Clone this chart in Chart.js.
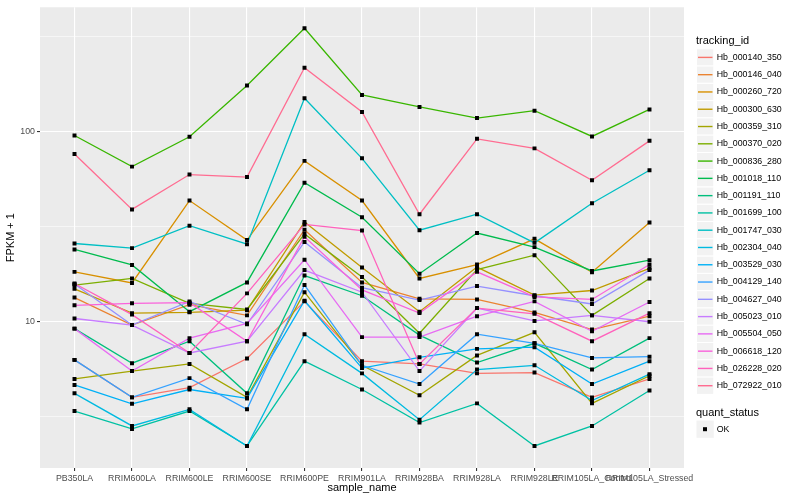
<!DOCTYPE html>
<html>
<head>
<meta charset="utf-8">
<title>FPKM por muestra</title>
<script src="https://cdn.jsdelivr.net/npm/chart.js@4.4.1/dist/chart.umd.min.js"></script>
<style>
    html, body { margin: 0; padding: 0; background: #ffffff; }
    #contenedor { width: 800px; height: 500px; }
</style>
</head>
<body>
<div id="contenedor"><canvas id="graficoFpkm" width="800" height="500"></canvas></div>
<script>
// Muestras (eje x)
const muestras = ['PB350LA', 'RRIM600LA', 'RRIM600LE', 'RRIM600SE', 'RRIM600PE', 'RRIM901LA',
    'RRIM928BA', 'RRIM928LA', 'RRIM928LE', 'RRIM105LA_Control', 'RRIM105LA_Stressed'];

// Valores FPKM + 1, uno por gen
const hb_000140_350 = [6.3, 4.0, 4.5, 6.4, 12.8, 6.2, 6.0, 5.35, 5.4, 4.0, 5.0];
const hb_000146_040 = [13.4, 9.6, 12.3, 10.8, 30.5, 16.1, 13.2, 13.1, 11.2, 9.1, 10.7];
const hb_000260_720 = [18.3, 16.0, 43.4, 26.9, 70.2, 43.4, 16.9, 20.0, 27.3, 18.2, 33.3];
const hb_000300_630 = [14.9, 11.1, 11.2, 11.5, 33.5, 19.3, 11.3, 19.4, 13.8, 14.6, 19.1];
const hb_000359_310 = [5.0, 5.5, 6.0, 4.0, 14.3, 5.9, 4.1, 6.65, 8.8, 3.72, 5.2];
const hb_000370_020 = [15.6, 16.9, 12.5, 11.6, 29.0, 17.2, 8.7, 18.8, 22.4, 10.8, 16.9];
const hb_000836_280 = [95.5, 65.5, 94, 175, 350, 156, 135, 118, 129, 94.4, 131];
const hb_001018_110 = [24.0, 19.9, 11.3, 16.1, 53.9, 35.5, 17.9, 29.3, 24.7, 18.5, 21.1];
const hb_001191_110 = [9.2, 6.05, 7.9, 4.2, 17.5, 13.7, 8.5, 6.1, 7.7, 5.6, 8.2];
const hb_001699_100 = [3.39, 2.73, 3.39, 2.22, 6.2, 4.4, 2.95, 3.72, 2.22, 2.83, 4.35];
const hb_001747_030 = [25.8, 24.4, 32.0, 25.6, 150, 72.4, 30.3, 36.8, 26.0, 42.0, 62.7];
const hb_002304_040 = [4.2, 2.83, 3.46, 2.22, 8.6, 5.35, 3.05, 5.6, 5.9, 3.85, 5.3];
const hb_003529_030 = [4.65, 3.7, 4.4, 3.95, 12.9, 5.7, 6.5, 7.2, 7.35, 4.7, 6.2];
const hb_004129_140 = [6.3, 4.0, 5.05, 3.46, 15.6, 5.9, 4.7, 8.6, 7.7, 6.45, 6.55];
const hb_004627_040 = [15.8, 9.6, 12.8, 9.7, 26.3, 15.1, 13.0, 15.4, 13.7, 12.4, 18.7];
const hb_005023_010 = [10.4, 9.6, 6.85, 7.9, 18.7, 14.3, 5.5, 11.8, 10.1, 10.8, 10.0];
const hb_005504_050 = [9.2, 5.5, 8.2, 9.8, 21.2, 8.3, 8.3, 10.7, 12.8, 8.9, 12.7];
const hb_006618_120 = [12.2, 12.5, 12.6, 7.9, 28.0, 14.7, 11.1, 18.3, 13.5, 13.1, 20.0];
const hb_026228_020 = [15.9, 10.9, 6.85, 14.1, 32.5, 30.2, 6.0, 11.8, 11.0, 7.9, 11.1];
const hb_072922_010 = [76.3, 39.0, 59.5, 57.7, 217, 127, 36.8, 91.7, 81.7, 55.5, 89.5];

const idsSeguimiento = ['Hb_000140_350', 'Hb_000146_040', 'Hb_000260_720', 'Hb_000300_630',
    'Hb_000359_310', 'Hb_000370_020', 'Hb_000836_280', 'Hb_001018_110', 'Hb_001191_110',
    'Hb_001699_100', 'Hb_001747_030', 'Hb_002304_040', 'Hb_003529_030', 'Hb_004129_140',
    'Hb_004627_040', 'Hb_005023_010', 'Hb_005504_050', 'Hb_006618_120', 'Hb_026228_020',
    'Hb_072922_010'];

const series = [hb_000140_350, hb_000146_040, hb_000260_720, hb_000300_630, hb_000359_310,
    hb_000370_020, hb_000836_280, hb_001018_110, hb_001191_110, hb_001699_100, hb_001747_030,
    hb_002304_040, hb_003529_030, hb_004129_140, hb_004627_040, hb_005023_010, hb_005504_050,
    hb_006618_120, hb_026228_020, hb_072922_010];

// Marcas del eje y (log10)
const etiquetasY = [10, 100];
const marcasMenoresY = [3.1623, 31.623, 316.23];

// Paleta de ggplot para 20 niveles
const colores = ['#F8766D', '#EA8331', '#D89000', '#C09B00', '#A3A500', '#7CAE00', '#39B600',
    '#00BB4E', '#00BF7D', '#00C1A3', '#00BFC4', '#00BAE0', '#00B0F6', '#35A2FF', '#9590FF',
    '#C77CFF', '#E76BF3', '#FA62DB', '#FF62BC', '#FF6C91'];

const FUENTE = '"Liberation Sans", Arial, Helvetica, sans-serif';
Chart.defaults.font.family = FUENTE;

function esMayor(v) {
    return etiquetasY.some(e => Math.abs(e - v) < 1e-6);
}

// Fondo gris del panel
const fondoPanel = {
    id: 'fondoPanel',
    beforeDraw(chart) {
        const { ctx, chartArea } = chart;
        ctx.save();
        ctx.fillStyle = '#EBEBEB';
        ctx.fillRect(chartArea.left, chartArea.top, chartArea.right - chartArea.left, chartArea.bottom - chartArea.top);
        ctx.restore();
    }
};

// Leyenda estilo ggplot a la derecha
const leyenda = {
    id: 'leyenda',
    afterDraw(chart) {
        const c = chart.ctx;
        const tam = 17.28;
        c.save();
        c.textBaseline = 'middle';
        c.textAlign = 'left';
        c.fillStyle = '#000000';
        c.font = '11px ' + FUENTE;
        c.fillText('tracking_id', 696, 41);

        idsSeguimiento.forEach((id, i) => {
            const yc = 57.4 + i * tam;
            c.fillStyle = '#F2F2F2';
            c.fillRect(696.5, yc - tam / 2, tam, tam);
            c.strokeStyle = '#FFFFFF';
            c.lineWidth = 1;
            c.strokeRect(696.5, yc - tam / 2, tam, tam);
            c.strokeStyle = colores[i];
            c.lineWidth = 1.4;
            c.beginPath();
            c.moveTo(698, yc);
            c.lineTo(712.5, yc);
            c.stroke();
            c.fillStyle = '#000000';
            c.font = '8.8px ' + FUENTE;
            c.fillText(id, 716.7, yc);
        });

        c.font = '11px ' + FUENTE;
        c.fillText('quant_status', 696, 412.5);
        const yOk = 429.2;
        c.fillStyle = '#F2F2F2';
        c.fillRect(696.5, yOk - tam / 2, tam, tam);
        c.fillStyle = '#000000';
        c.fillRect(703, yOk - 2, 4, 4);
        c.font = '8.8px ' + FUENTE;
        c.fillText('OK', 716.7, yOk);
        c.restore();
    }
};

function generarGrafico() {
    const lineas = series.map((valores, i) => ({
        type: 'line',
        label: idsSeguimiento[i],
        data: valores.map((v, j) => ({ x: j, y: v })),
        borderColor: colores[i],
        borderWidth: 1.3,
        pointRadius: 0,
        fill: false,
        tension: 0,
        order: 100 - i
    }));

    const puntos = {
        type: 'scatter',
        label: 'OK',
        data: series.flatMap(valores => valores.map((v, j) => ({ x: j, y: v }))),
        pointStyle: 'rect',
        pointRadius: 2.8,
        backgroundColor: '#000000',
        borderWidth: 0,
        order: 0
    };

    const ctx = document.getElementById('graficoFpkm').getContext('2d');
    new Chart(ctx, {
        type: 'line',
        data: { datasets: [...lineas, puntos] },
        options: {
            responsive: false,
            animation: false,
            devicePixelRatio: 1,
            layout: { padding: { top: 5, right: 116, left: 0, bottom: 0 } },
            plugins: {
                legend: { display: false },
                tooltip: { enabled: false }
            },
            scales: {
                x: {
                    type: 'linear',
                    min: -0.6,
                    max: 10.6,
                    afterBuildTicks: ax => { ax.ticks = muestras.map((m, i) => ({ value: i })); },
                    afterFit: ax => { ax.height = 32; },
                    ticks: {
                        callback: v => muestras[v],
                        autoSkip: false,
                        maxRotation: 0,
                        minRotation: 0,
                        color: '#4D4D4D',
                        font: { size: 8.8 },
                        padding: 2
                    },
                    grid: {
                        color: '#FFFFFF',
                        lineWidth: 1.1,
                        tickColor: '#333333',
                        tickLength: 3
                    },
                    border: { display: false },
                    title: {
                        display: true,
                        text: 'sample_name',
                        color: '#000000',
                        font: { size: 11 },
                        padding: { top: 0, bottom: 5 }
                    }
                },
                y: {
                    type: 'logarithmic',
                    min: 1.70,
                    max: 451.4,
                    afterBuildTicks: ax => {
                        ax.ticks = [...marcasMenoresY, ...etiquetasY].sort((a, b) => a - b).map(v => ({ value: v }));
                    },
                    afterFit: ax => { ax.width = 40; },
                    ticks: {
                        callback: v => esMayor(v) ? String(v) : '',
                        autoSkip: false,
                        color: '#4D4D4D',
                        font: { size: 8.8 },
                        padding: 2
                    },
                    grid: {
                        color: '#FFFFFF',
                        lineWidth: c => (c.tick && esMayor(c.tick.value)) ? 1.1 : 0.55,
                        tickColor: c => (c.tick && esMayor(c.tick.value)) ? '#333333' : 'rgba(0,0,0,0)',
                        tickLength: 3
                    },
                    border: { display: false },
                    title: {
                        display: true,
                        text: 'FPKM + 1',
                        color: '#000000',
                        font: { size: 11 },
                        padding: { top: 4.5, bottom: 0 }
                    }
                }
            }
        },
        plugins: [fondoPanel, leyenda]
    });
}

window.onload = generarGrafico;
</script>
</body>
</html>
